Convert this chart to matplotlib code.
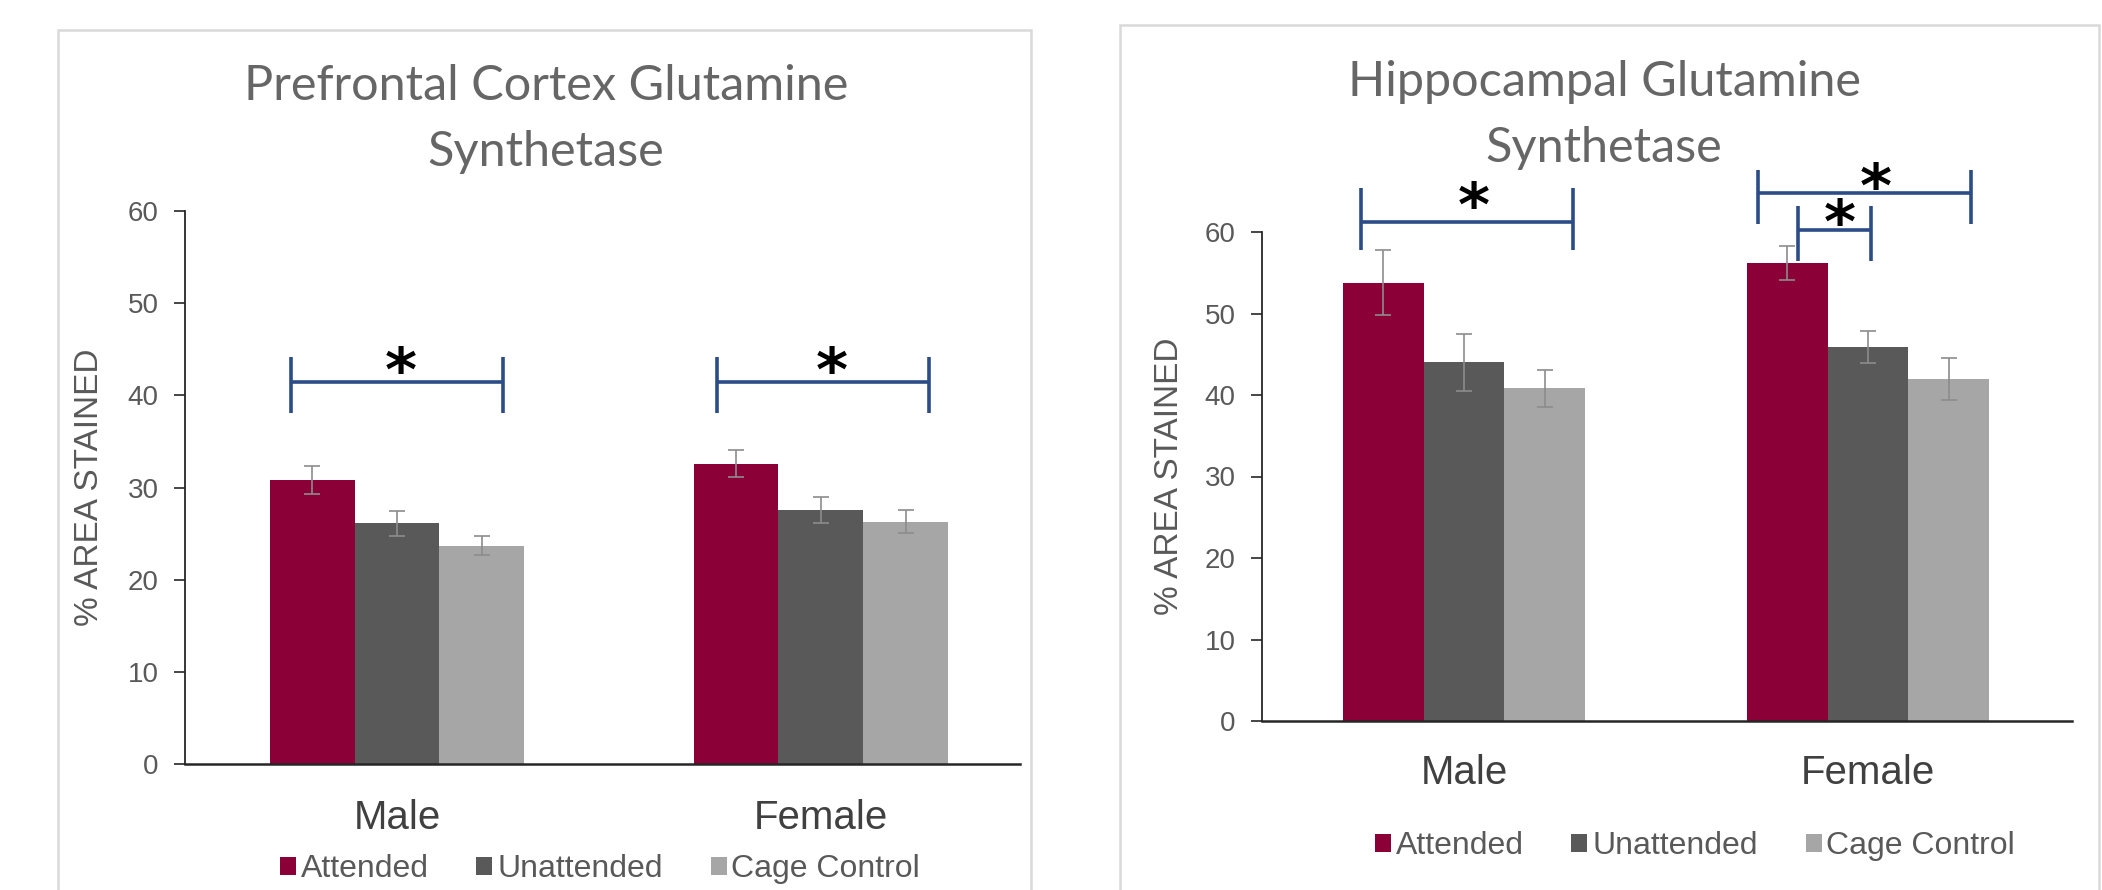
import matplotlib
matplotlib.use("Agg")
import matplotlib.pyplot as plt
from matplotlib.patches import Rectangle, Patch
from matplotlib import transforms
import numpy as np

# ---- data -------------------------------------------------------------
groups = ["Male", "Female"]
conditions = ["Attended", "Unattended", "Cage Control"]

pfc_means = {"Attended": [30.8, 32.6], "Unattended": [26.1, 27.6], "Cage Control": [23.7, 26.3]}
pfc_sem = {"Attended": [1.5, 1.45], "Unattended": [1.35, 1.4], "Cage Control": [1.05, 1.25]}

hip_means = {"Attended": [53.8, 56.2], "Unattended": [44.0, 45.9], "Cage Control": [40.8, 42.0]}
hip_sem = {"Attended": [4.0, 2.1], "Unattended": [3.5, 2.0], "Cage Control": [2.3, 2.6]}

yticks = [0, 10, 20, 30, 40, 50, 60]

colors = {"Attended": "#8B0037", "Unattended": "#595959", "Cage Control": "#A6A6A6"}
bracket_color = "#2B4C86"
text_gray = "#595959"

# significance brackets: (group index, left offset, right offset, line y, tick low, tick high, star dx, star y)
pfc_brackets = [
    (0, -0.25, 0.25, 41.5, 38.1, 44.2, 0.01, 43.3),
    (1, -0.245, 0.255, 41.5, 38.1, 44.2, 0.025, 43.3),
]
hip_brackets = [
    (0, -0.255, 0.27, 61.2, 57.8, 65.4, 0.025, 64.0),
    (1, -0.272, 0.255, 64.8, 61.0, 67.6, 0.02, 66.3),
    (1, -0.172, 0.007, 60.2, 56.4, 63.2, -0.07, 61.9),
]

W, H = 2102, 890
fig = plt.figure(figsize=(W / 100, H / 100), dpi=100)
fig.patch.set_facecolor("white")

# panel frames
for (x0, y0, x1) in [(58, 30, 1031), (1120, 25, 2099)]:
    fig.patches.append(Rectangle((x0 / W, -0.05), (x1 - x0) / W, 1.05 - y0 / H,
                                 transform=fig.transFigure, facecolor="none",
                                 edgecolor="#D9D9D9", linewidth=1.8, zorder=-1))


def draw_panel(ax, means, sem, brackets, xmax, title_lines, title_xy,
               group_label_y, legend_y, legend_x, ylabel_x):
    x = np.arange(len(groups))
    width = 0.2
    for i, cond in enumerate(conditions):
        pos = x + (i - 1) * width
        ax.bar(pos, means[cond], width, color=colors[cond], label=cond, zorder=2)
        ax.errorbar(pos, means[cond], yerr=sem[cond], fmt="none", ecolor="#8C8C8C",
                    elinewidth=1.2, capsize=6, capthick=1.2, zorder=3)
    ax.set_xlim(-0.5, xmax)
    ax.set_ylim(0, 60)
    ax.set_yticks(yticks)
    ax.set_yticklabels([str(t) for t in yticks], fontsize=20, color=text_gray,
                       family="Liberation Sans")
    ax.tick_params(axis="y", direction="out", length=8, width=1.2, color="#262626", pad=11)
    ax.set_xticks([])
    for s in ["top", "right"]:
        ax.spines[s].set_visible(False)
    ax.spines["left"].set_color("#262626")
    ax.spines["bottom"].set_color("#262626")
    ax.spines["left"].set_linewidth(1.3)
    ax.spines["bottom"].set_linewidth(1.8)
    ax.set_ylabel("% AREA STAINED", fontsize=24, color=text_gray,
                  family="Liberation Sans")
    ax.yaxis.set_label_coords(ylabel_x, 0.5)
    ax.set_facecolor("none")

    # category labels under the axis
    label_tr = transforms.blended_transform_factory(ax.transData, fig.transFigure)
    for gi, g in enumerate(groups):
        ax.text(gi, 1 - group_label_y / H, g, transform=label_tr, fontsize=29,
                color="#404040", family="Liberation Sans", ha="center", va="center")

    # significance brackets
    star_shift = transforms.offset_copy(ax.transData, fig=fig, x=0, y=-10, units="dots")
    for (gi, lo, hi, yl, t0, t1, sdx, sy) in brackets:
        ax.plot([gi + lo, gi + hi], [yl, yl], color=bracket_color, lw=2.6,
                clip_on=False, zorder=4, solid_capstyle="butt")
        for xe in (gi + lo, gi + hi):
            ax.plot([xe, xe], [t0, t1], color=bracket_color, lw=2.6,
                    clip_on=False, zorder=4, solid_capstyle="butt")
        ax.text(gi + sdx, sy, "*", fontsize=44, fontweight="bold", color="black",
                ha="center", va="center", family="DejaVu Sans", clip_on=False,
                zorder=5, transform=star_shift)

    # title
    fig.text(title_xy[0] / W, 1 - title_xy[1] / H, "\n".join(title_lines),
             fontsize=35, color="#666666", family="Lato",
             ha="center", va="center", linespacing=1.62)

    handles = [Patch(facecolor=colors[c], edgecolor="none") for c in conditions]
    fig.legend(handles, conditions, loc="center", ncol=3,
               bbox_to_anchor=(legend_x / W, 1 - legend_y / H), frameon=False,
               prop={"family": "Liberation Sans", "size": 23},
               labelcolor=text_gray, handlelength=0.5, handleheight=0.5,
               handletextpad=0.15, columnspacing=1.5)


ax1 = fig.add_axes([185 / W, 1 - 764 / H, (1020 - 185) / W, (764 - 211) / H])
draw_panel(ax1, pfc_means, pfc_sem, pfc_brackets, 1.47,
           ["Prefrontal Cortex Glutamine", "Synthetase"], (546, 119),
           818, 869, 600, -0.096)

ax2 = fig.add_axes([1262 / W, 1 - 721 / H, (2072 - 1262) / W, (721 - 232) / H])
draw_panel(ax2, hip_means, hip_sem, hip_brackets, 1.505,
           ["Hippocampal Glutamine", "Synthetase"], (1604, 115),
           773, 846, 1695, -0.095)

fig.savefig("out.png", dpi=100, facecolor="white")
